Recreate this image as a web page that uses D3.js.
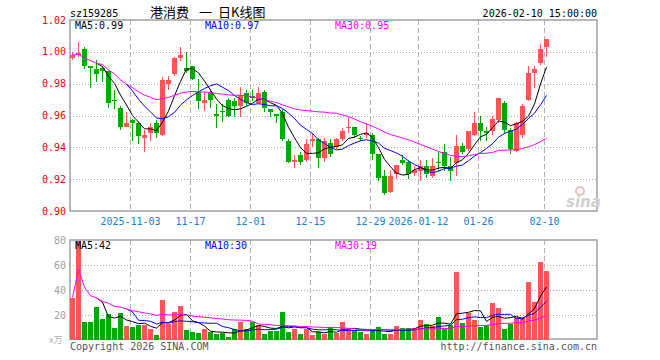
<!DOCTYPE html>
<html>
<head>
<meta charset="utf-8">
<script src="https://cdn.jsdelivr.net/npm/d3@7"></script>
<style>
  body { margin: 0; background: #fff; }
  svg { display: block; }
  text { font-family: "DejaVu Sans Mono", monospace; font-size: 10px; }
</style>
</head>
<body>
<svg width="660" height="360"></svg>
<script>
// jours de cotation (80 séances)
let dates = [
  "2025-10-20","2025-10-21","2025-10-22","2025-10-23","2025-10-24","2025-10-27","2025-10-28","2025-10-29","2025-10-30","2025-10-31",
  "2025-11-03","2025-11-04","2025-11-05","2025-11-06","2025-11-07","2025-11-10","2025-11-11","2025-11-12","2025-11-13","2025-11-14",
  "2025-11-17","2025-11-18","2025-11-19","2025-11-20","2025-11-21","2025-11-24","2025-11-25","2025-11-26","2025-11-27","2025-11-28",
  "2025-12-01","2025-12-02","2025-12-03","2025-12-04","2025-12-05","2025-12-08","2025-12-09","2025-12-10","2025-12-11","2025-12-12",
  "2025-12-15","2025-12-16","2025-12-17","2025-12-18","2025-12-19","2025-12-22","2025-12-23","2025-12-24","2025-12-25","2025-12-26",
  "2025-12-29","2025-12-30","2025-12-31","2026-01-05","2026-01-06","2026-01-07","2026-01-08","2026-01-09","2026-01-12","2026-01-13",
  "2026-01-14","2026-01-15","2026-01-16","2026-01-19","2026-01-20","2026-01-21","2026-01-22","2026-01-23","2026-01-26","2026-01-27",
  "2026-01-28","2026-01-29","2026-01-30","2026-02-02","2026-02-03","2026-02-04","2026-02-05","2026-02-06","2026-02-09","2026-02-10"
];

let ouverture = [
  0.996,0.998,1.002,0.991,0.989,0.990,0.988,0.970,0.965,0.953,
  0.957,0.955,0.946,0.949,0.955,0.948,0.980,0.986,0.996,0.990,
  0.991,0.975,0.968,0.975,0.961,0.963,0.970,0.969,0.966,0.974,
  0.972,0.968,0.975,0.964,0.961,0.962,0.944,0.931,0.935,0.932,
  0.944,0.945,0.933,0.943,0.940,0.945,0.952,0.953,0.946,0.948,
  0.948,0.936,0.922,0.912,0.923,0.932,0.931,0.924,0.925,0.928,
  0.922,0.931,0.937,0.928,0.930,0.941,0.939,0.948,0.955,0.950,
  0.950,0.957,0.968,0.951,0.938,0.948,0.970,0.987,0.993,1.003
];
let plusHaut = [
  1.000,1.006,1.003,0.991,0.995,0.991,0.988,0.976,0.966,0.962,
  0.958,0.956,0.951,0.955,0.957,0.984,0.985,0.997,1.003,1.000,
  0.991,0.983,0.975,0.976,0.967,0.967,0.971,0.971,0.978,0.976,
  0.976,0.978,0.976,0.964,0.961,0.964,0.945,0.935,0.937,0.945,
  0.949,0.946,0.946,0.945,0.946,0.952,0.959,0.953,0.947,0.955,
  0.949,0.936,0.926,0.926,0.929,0.935,0.932,0.928,0.932,0.932,
  0.933,0.937,0.942,0.934,0.948,0.943,0.950,0.962,0.960,0.953,
  0.960,0.971,0.969,0.952,0.956,0.967,0.991,0.991,1.005,1.008
];
let plusBas = [
  0.995,0.997,0.989,0.977,0.981,0.981,0.965,0.964,0.951,0.953,
  0.944,0.942,0.937,0.944,0.946,0.947,0.976,0.985,0.994,0.987,
  0.982,0.964,0.963,0.965,0.952,0.956,0.959,0.959,0.959,0.966,
  0.969,0.967,0.962,0.959,0.955,0.944,0.930,0.927,0.929,0.931,
  0.940,0.927,0.931,0.934,0.939,0.944,0.949,0.946,0.944,0.946,
  0.932,0.919,0.910,0.911,0.920,0.929,0.920,0.922,0.919,0.921,
  0.921,0.925,0.925,0.919,0.922,0.936,0.938,0.947,0.944,0.944,
  0.948,0.955,0.949,0.936,0.937,0.946,0.969,0.977,0.992,0.997
];
let cloture = [
  0.998,0.999,0.991,0.990,0.986,0.988,0.968,0.969,0.953,0.955,
  0.955,0.947,0.948,0.953,0.949,0.982,0.982,0.996,0.998,0.988,
  0.983,0.969,0.970,0.970,0.960,0.962,0.960,0.966,0.973,0.968,
  0.971,0.974,0.965,0.962,0.960,0.945,0.931,0.932,0.931,0.942,
  0.945,0.933,0.944,0.936,0.945,0.950,0.953,0.948,0.945,0.949,
  0.936,0.921,0.911,0.922,0.929,0.930,0.923,0.926,0.928,0.923,
  0.928,0.930,0.928,0.925,0.941,0.937,0.950,0.955,0.950,0.949,
  0.958,0.971,0.951,0.939,0.955,0.966,0.987,0.989,1.002,1.008
];
// volume en x万
let volume = [
  34,79,14.4,14.4,26.4,16.8,20.8,9.6,21.6,11.2,
  10.4,12.3,12.0,8.8,4.0,32.0,12.8,22.4,27.2,8.0,
  6.4,5.6,8.8,6.4,4.8,5.9,2.7,8.5,14.4,8.8,
  14.4,12.0,4.8,7.5,7.5,22.4,6.4,8.8,4.8,8.8,
  4.0,6.1,5.1,10.1,5.9,14.4,9.1,7.2,6.7,4.8,
  8.8,10.4,4.8,4.8,11.2,9.6,9.6,9.6,16.0,12.8,
  11.2,18.4,8.8,12.0,54.4,13.6,21.9,16.0,10.7,12.0,
  30.0,25.6,8.8,12.8,18.1,18.1,46.4,30.4,62.4,55.2
];

let ticksPrix = [0.90, 0.92, 0.94, 0.96, 0.98, 1.00, 1.02];
let ticksVolume = [20, 40, 60, 80];
let etiquettesDates = [
  {d:"2025-11-03", t:"2025-11-03"}, {d:"2025-11-17", t:"11-17"}, {d:"2025-12-01", t:"12-01"},
  {d:"2025-12-15", t:"12-15"}, {d:"2025-12-29", t:"12-29"}, {d:"2026-01-12", t:"2026-01-12"},
  {d:"2026-01-26", t:"01-26"}, {d:"2026-02-10", t:"02-10"}
];

const ROUGE = "#ff5555", VERT = "#00aa00";
let svg = d3.select("svg");

// échelles
let x = d3.scaleBand().domain(dates).range([70, 550]);
let gauche = 70, droite = 597;
let y = d3.scaleLinear().domain([0.90, 1.02]).range([211, 20]);
let yv = d3.scaleLinear().domain([0, 80]).range([340, 240]);

// moyenne mobile (moyenne cumulée tant qu'il n'y a pas assez de séances)
function moyenne(tab, n) {
  return tab.map((v, i) => d3.mean(tab.slice(Math.max(0, i - n + 1), i + 1)));
}

let bougies = dates.map((d, i) => ({
  d: d, o: ouverture[i], h: plusHaut[i], l: plusBas[i], c: cloture[i], v: volume[i]
}));

// textes d'en-tête
svg.append("text").attr("x", 70).attr("y", 17).attr("fill", "#000").text("sz159285");
let titre = svg.append("text").attr("y", 17)
  .style("font-family", "'Noto Sans CJK SC', sans-serif").style("font-size", "13px").attr("fill", "#000");
titre.append("tspan").attr("x", 150).text("港消费");
titre.append("tspan").attr("x", 199).text("一");
titre.append("tspan").attr("x", 218).text("日K线图");
svg.append("text").attr("x", 597).attr("y", 17).attr("text-anchor", "end").attr("fill", "#000")
  .text("2026-02-10 15:00:00");

function panneau(yHaut, yBas, echelle, ticks, fmt, couleurTicks) {
  // grille horizontale pointillée
  ticks.forEach(t => {
    let yy = Math.round(echelle(t)) + 0.5;
    if (yy > yHaut + 2 && yy < yBas - 2) {
      svg.append("line").attr("x1", gauche).attr("x2", droite).attr("y1", yy).attr("y2", yy)
        .attr("stroke", "#aaa").attr("stroke-dasharray", "1,2");
    }
    svg.append("text").attr("x", 66).attr("y", echelle(t) + 3.5).attr("text-anchor", "end")
      .attr("fill", couleurTicks).text(fmt(t));
  });
  // grille verticale en tirets
  etiquettesDates.forEach(e => {
    let xx = x(e.d) + 0.5;
    svg.append("line").attr("x1", xx).attr("x2", xx).attr("y1", yHaut).attr("y2", yBas)
      .attr("stroke", "#b0b0b0").attr("stroke-dasharray", "5,3");
  });
  svg.append("rect").attr("x", gauche).attr("y", yHaut).attr("width", droite - gauche)
    .attr("height", yBas - yHaut).attr("fill", "none").attr("stroke", "#a0a0a0").attr("stroke-width", 1.5);
}

panneau(20, 211, y, ticksPrix, d3.format(".2f"), "#ee0000");
panneau(240, 339, yv, ticksVolume, d => d, "#a0a0a0");

// étiquettes de dates
etiquettesDates.forEach(e => {
  svg.append("text").attr("x", x(e.d) + 0.5).attr("y", 225).attr("text-anchor", "middle")
    .attr("fill", "#1a80d0").text(e.t);
});

// bougies
let g = svg.append("g").attr("shape-rendering", "crispEdges");
g.selectAll(".meche").data(bougies).enter().append("line")
  .attr("x1", d => x(d.d) + 2.5).attr("x2", d => x(d.d) + 2.5)
  .attr("y1", d => y(d.h)).attr("y2", d => y(d.l))
  .attr("stroke", d => d.c >= d.o ? ROUGE : VERT);
g.selectAll(".corps").data(bougies).enter().append("rect")
  .attr("x", d => x(d.d)).attr("width", 5)
  .attr("y", d => y(Math.max(d.o, d.c)))
  .attr("height", d => Math.max(1, Math.abs(y(d.o) - y(d.c))))
  .attr("fill", d => d.c >= d.o ? ROUGE : VERT);

// barres de volume
g.selectAll(".vol").data(bougies).enter().append("rect")
  .attr("x", d => x(d.d)).attr("width", 5)
  .attr("y", d => yv(Math.min(d.v, 80)))
  .attr("height", d => yv(0) - yv(Math.min(d.v, 80)))
  .attr("fill", d => d.c >= d.o ? ROUGE : VERT);

// moyennes mobiles : MA5 et MA10 commencent quand il y a assez de séances, MA30 dès le début
let moyennes = [[5, "#000000", 4], [10, "#0000ff", 9], [30, "#ff00ff", 0]];
moyennes.forEach(([n, coul, debut]) => {
  let ligne = echelle => d3.line()
    .defined((v, i) => i >= debut)
    .x((v, i) => x(dates[i]) + 2.5).y(v => echelle(v));
  svg.append("path").datum(moyenne(cloture, n)).attr("fill", "none").attr("stroke", coul)
    .attr("stroke-width", 1).attr("d", ligne(y));
  svg.append("path").datum(moyenne(volume, n)).attr("fill", "none").attr("stroke", coul)
    .attr("stroke-width", 1).attr("d", ligne(yv));
});

// légendes des moyennes
let m5 = moyenne(cloture, 5), m10 = moyenne(cloture, 10), m30 = moyenne(cloture, 30);
let v5 = moyenne(volume, 5), v10 = moyenne(volume, 10), v30 = moyenne(volume, 30);
let n = dates.length - 1;
[[75, "#000", "MA5:" + m5[n].toFixed(2), "MA5:" + Math.floor(v5[n])],
 [205, "#0000ff", "MA10:" + m10[n].toFixed(2), "MA10:" + Math.floor(v10[n])],
 [335, "#ff00ff", "MA30:" + m30[n].toFixed(2), "MA30:" + Math.floor(v30[n])]]
  .forEach(([xx, coul, t1, t2]) => {
    svg.append("text").attr("x", xx).attr("y", 29).attr("fill", coul).text(t1);
    svg.append("text").attr("x", xx).attr("y", 249).attr("fill", coul).text(t2);
  });

// unité, pied de page, logo
svg.append("text").attr("x", 49).attr("y", 343).attr("fill", "#b0b0b0")
  .style("font-family", "'Noto Sans CJK SC', sans-serif").style("font-size", "9px").text("x万");
svg.append("text").attr("x", 70).attr("y", 350).attr("fill", "#555").text("Copyright 2026 SINA.COM");
svg.append("text").attr("x", 597).attr("y", 350).attr("text-anchor", "end").attr("fill", "#555")
  .text("http://finance.sina.com.cn");
svg.append("circle").attr("cx", 580).attr("cy", 191).attr("r", 4)
  .attr("fill", "none").attr("stroke", "#e8c0c0").attr("stroke-width", 2);
svg.append("text").attr("x", 566).attr("y", 207).attr("fill", "#d0d0d0")
  .style("font-family", "'DejaVu Sans', sans-serif").style("font-size", "15px")
  .style("font-weight", "bold").style("font-style", "italic").text("sina");
</script>
</body>
</html>
